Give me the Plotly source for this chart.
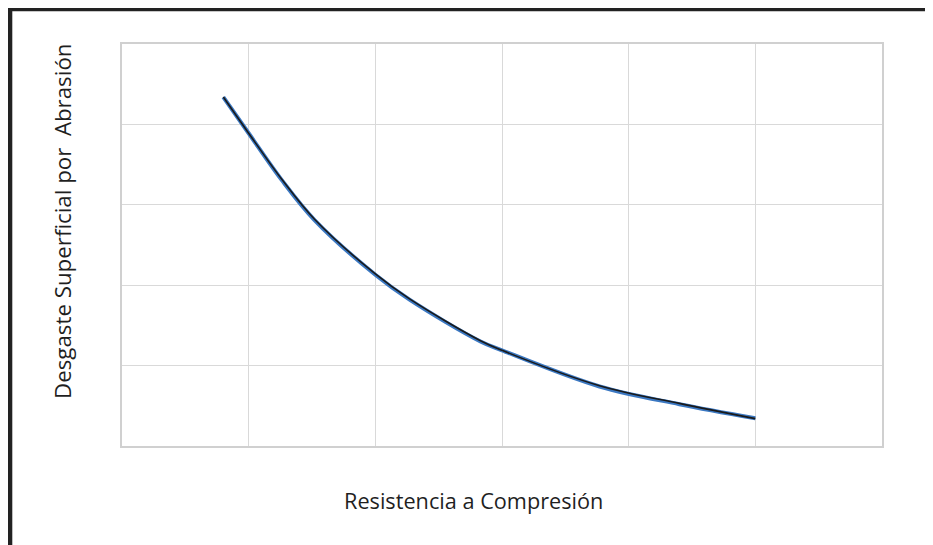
import plotly.graph_objects as go

# Data (arbitrary units; axes have no tick labels)
resistencia = [0.8, 1.0, 1.26, 1.52, 2.0, 2.27, 2.83, 3.0, 3.77, 4.4, 5.0]
desgaste_azul = [4.34, 3.89, 3.31, 2.81, 2.13, 1.82, 1.30, 1.19, 0.74, 0.52, 0.345]
desgaste_negro = [4.34, 3.89, 3.32, 2.82, 2.14, 1.83, 1.31, 1.19, 0.75, 0.53, 0.34]

x_title = "Resistencia a Compresión"
y_title = "Desgaste Superficial por  Abrasión"

fig = go.Figure()
fig.add_trace(go.Scatter(x=resistencia, y=desgaste_azul, mode="lines",
                         line=dict(color="#3B78C2", width=4, shape="spline"),
                         showlegend=False, hoverinfo="skip"))
fig.add_trace(go.Scatter(x=resistencia, y=desgaste_negro, mode="lines",
                         line=dict(color="#1a1a1a", width=1.6, shape="spline"),
                         showlegend=False))

xfont = dict(family="Open Sans, sans-serif", size=21.7, color="#1f1f1f")
yfont = dict(family="Open Sans, sans-serif", size=22.3, color="#1f1f1f")

# page body adds an 8px margin, so the figure is 8px smaller than the window
W, H = 925, 537
L, R, T, B = 114, 51, 36, 99
pw, ph = W - L - R, H - T - B

fig.update_layout(
    width=W, height=H,
    margin=dict(l=L, r=R, t=T, b=B),
    paper_bgcolor="white", plot_bgcolor="white",
    font=xfont,
    xaxis=dict(range=[0, 6], dtick=1, tick0=0, showticklabels=False, ticks="",
               showgrid=True, gridcolor="#d9d9d9", gridwidth=1, zeroline=False,
               showline=True, linecolor="#d0d0d0", linewidth=1.5, mirror=True),
    yaxis=dict(range=[0, 5], dtick=1, tick0=0, showticklabels=False, ticks="",
               showgrid=True, gridcolor="#d9d9d9", gridwidth=1, zeroline=False,
               showline=True, linecolor="#d0d0d0", linewidth=1.5, mirror=True),
    annotations=[
        dict(text=x_title, xref="paper", yref="paper",
             x=(465 - L) / pw, y=(T + ph - 492) / ph,
             xanchor="center", yanchor="middle", showarrow=False, font=xfont),
        dict(text=y_title, xref="paper", yref="paper", textangle=-90,
             x=(54 - L) / pw, y=(T + ph - 214) / ph,
             xanchor="center", yanchor="middle", showarrow=False, font=yfont),
    ],
    shapes=[
        dict(type="line", xref="paper", yref="paper",
             x0=(-4 - L) / pw, x1=(W + 5 - L) / pw,
             y0=(T + ph - 1.5) / ph, y1=(T + ph - 1.5) / ph,
             line=dict(color="#222222", width=3.5)),
        dict(type="line", xref="paper", yref="paper",
             x0=(1.8 - L) / pw, x1=(1.8 - L) / pw,
             y0=(T + ph) / ph, y1=(T + ph - H - 10) / ph,
             line=dict(color="#222222", width=5)),
    ],
)

fig.write_html("out.html")
